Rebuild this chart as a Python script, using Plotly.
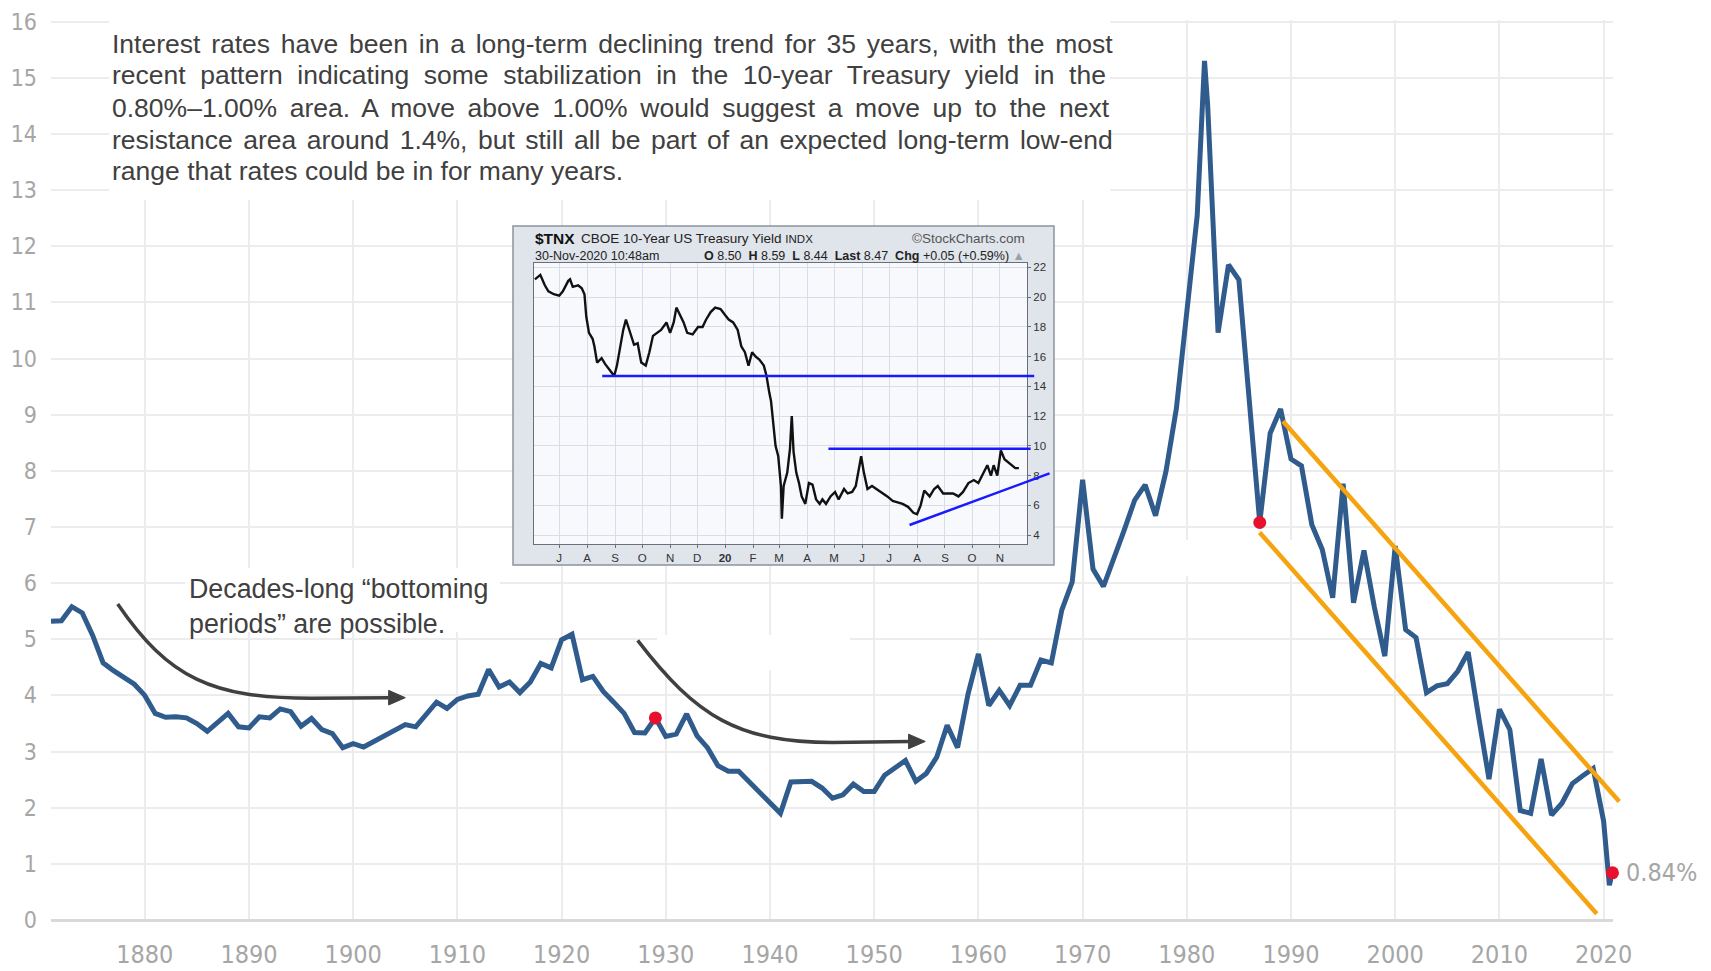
import plotly.graph_objects as go

# ---------------- main series (long-term US interest rate, %) ----------------
years = [1871, 1872, 1873, 1874, 1875, 1876, 1877, 1878, 1879, 1880,
         1881, 1882, 1883, 1884, 1885, 1886, 1887, 1888, 1889, 1890,
         1891, 1892, 1893, 1894, 1895, 1896, 1897, 1898, 1899, 1900,
         1901, 1902, 1903, 1904, 1905, 1906, 1907, 1908, 1909, 1910,
         1911, 1912, 1913, 1914, 1915, 1916, 1917, 1918, 1919, 1920,
         1921, 1922, 1923, 1924, 1925, 1926, 1927, 1928, 1929, 1930,
         1931, 1932, 1933, 1934, 1935, 1936, 1937, 1938, 1939, 1940,
         1941, 1942, 1943, 1944, 1945, 1946, 1947, 1948, 1949, 1950,
         1951, 1952, 1953, 1954, 1955, 1956, 1957, 1958, 1959, 1960,
         1961, 1962, 1963, 1964, 1965, 1966, 1967, 1968, 1969, 1970,
         1971, 1972, 1973, 1974, 1975, 1976, 1977, 1978, 1979, 1980,
         1981, 1981.7, 1982, 1983, 1984, 1985, 1986, 1987, 1988, 1989, 1990,
         1991, 1992, 1993, 1994, 1995, 1996, 1997, 1998, 1999, 2000,
         2001, 2002, 2003, 2004, 2005, 2006, 2007, 2008, 2009, 2010,
         2011, 2012, 2013, 2014, 2015, 2016, 2017, 2018, 2019, 2020,
         2020.55, 2020.85]
rates = [5.32, 5.33, 5.58, 5.47, 5.07, 4.58, 4.44, 4.32, 4.20, 4.00,
         3.68, 3.61, 3.62, 3.60, 3.50, 3.36, 3.52, 3.68, 3.44, 3.42,
         3.62, 3.60, 3.76, 3.71, 3.45, 3.59, 3.39, 3.32, 3.07, 3.14,
         3.08, 3.18, 3.29, 3.39, 3.48, 3.44, 3.65, 3.88, 3.77, 3.93,
         3.99, 4.02, 4.46, 4.15, 4.24, 4.05, 4.24, 4.57, 4.49, 4.99,
         5.09, 4.28, 4.34, 4.07, 3.88, 3.68, 3.34, 3.33, 3.60, 3.27,
         3.31, 3.67, 3.28, 3.07, 2.75, 2.65, 2.65, 2.47, 2.27, 2.10,
         1.90, 2.46, 2.47, 2.47, 2.35, 2.17, 2.23, 2.42, 2.29, 2.29,
         2.58, 2.70, 2.84, 2.47, 2.61, 2.90, 3.47, 3.07, 4.02, 4.74,
         3.82, 4.09, 3.82, 4.18, 4.18, 4.63, 4.58, 5.52, 6.02, 7.84,
         6.25, 5.94, 6.42, 6.95, 7.48, 7.75, 7.20, 7.99, 9.11, 10.82,
         12.55, 15.30, 14.52, 10.46, 11.67, 11.40, 9.19, 7.08, 8.67, 9.10, 8.21,
         8.09, 7.04, 6.60, 5.74, 7.77, 5.65, 6.58, 5.57, 4.70, 6.66,
         5.17, 5.03, 4.05, 4.17, 4.21, 4.43, 4.77, 3.62, 2.51, 3.75,
         3.39, 1.95, 1.90, 2.87, 1.87, 2.08, 2.43, 2.57, 2.70, 1.76,
         0.62, 0.84]

highlight_years = [1929, 1987, 2020.85]
highlight_rates = [3.60, 7.08, 0.84]
last_label = "0.84%"

x_ticks = list(range(1880, 2021, 10))
y_ticks = list(range(0, 17))

# trend channel (orange)
channel_upper = [(1989.1, 8.91), (2021.5, 2.11)]
channel_lower = [(1986.86, 6.93), (2019.34, 0.11)]

# ---------------- inset: $TNX values (yield x10) ----------------
tnx_dates = ["2019-06-04", "2019-06-10", "2019-06-15", "2019-06-19", "2019-06-25", "2019-07-01",
             "2019-07-05", "2019-07-11", "2019-07-13", "2019-07-16", "2019-07-22", "2019-07-26",
             "2019-07-29", "2019-07-31", "2019-08-03", "2019-08-07", "2019-08-09", "2019-08-12",
             "2019-08-17", "2019-08-21", "2019-08-26", "2019-08-31", "2019-09-03", "2019-09-07",
             "2019-09-10", "2019-09-13", "2019-09-18", "2019-09-22", "2019-09-26", "2019-09-30",
             "2019-10-05", "2019-10-09", "2019-10-13", "2019-10-17", "2019-10-22", "2019-10-28",
             "2019-11-01", "2019-11-05", "2019-11-08", "2019-11-12", "2019-11-16", "2019-11-20",
             "2019-11-26", "2019-12-02", "2019-12-07", "2019-12-11", "2019-12-16", "2019-12-21",
             "2019-12-27", "2020-01-01", "2020-01-05", "2020-01-10", "2020-01-15", "2020-01-19",
             "2020-01-23", "2020-01-27", "2020-01-31", "2020-02-04", "2020-02-08", "2020-02-13",
             "2020-02-16", "2020-02-19", "2020-02-21", "2020-02-23", "2020-02-26", "2020-02-29",
             "2020-03-03", "2020-03-04", "2020-03-06", "2020-03-10", "2020-03-13", "2020-03-15",
             "2020-03-17", "2020-03-20", "2020-03-23", "2020-03-26", "2020-03-30", "2020-04-03",
             "2020-04-07", "2020-04-11", "2020-04-15", "2020-04-18", "2020-04-22", "2020-04-27",
             "2020-05-02", "2020-05-06", "2020-05-12", "2020-05-16", "2020-05-21", "2020-05-25",
             "2020-05-28", "2020-05-31", "2020-06-03", "2020-06-07", "2020-06-12", "2020-06-17",
             "2020-06-23", "2020-06-29", "2020-07-05", "2020-07-11", "2020-07-16", "2020-07-22",
             "2020-07-28", "2020-08-01", "2020-08-05", "2020-08-09", "2020-08-15", "2020-08-20",
             "2020-08-24", "2020-08-30", "2020-09-04", "2020-09-10", "2020-09-16", "2020-09-21",
             "2020-09-27", "2020-10-03", "2020-10-08", "2020-10-14", "2020-10-18", "2020-10-22",
             "2020-10-25", "2020-10-29", "2020-11-02", "2020-11-06", "2020-11-10", "2020-11-14",
             "2020-11-18", "2020-11-22"]
tnx_vals = [21.2, 21.5, 20.8, 20.4, 20.2, 20.1,
            20.4, 21.1, 21.2, 20.7, 20.8, 20.6,
            20.2, 18.7, 17.6, 17.2, 16.7, 15.6,
            15.9, 15.5, 15.1, 14.7, 15.4, 16.7,
            17.8, 18.5, 17.6, 16.8, 16.9, 15.6,
            15.4, 16.3, 17.4, 17.6, 17.8, 18.3,
            17.6, 18.3, 19.3, 18.8, 18.3, 17.6,
            17.5, 18.0, 18.0, 18.5, 19.0, 19.3,
            19.2, 18.8, 18.5, 18.3, 17.8, 16.7,
            16.3, 15.4, 16.3, 16.0, 15.8, 15.4,
            14.7, 13.6, 13.0, 11.8, 10.0, 9.3,
            7.3, 5.1, 7.3, 8.2, 9.8, 12.0,
            9.6, 8.2, 7.5, 6.6, 6.1, 7.5,
            7.4, 6.4, 6.1, 6.4, 6.1, 6.6,
            6.9, 6.4, 7.1, 6.8, 6.9, 7.3,
            8.2, 9.3, 8.2, 7.1, 7.3, 7.1,
            6.9, 6.6, 6.3, 6.2, 6.1, 5.9,
            5.5, 5.4, 6.0, 7.0, 6.6, 7.1,
            7.3, 6.8, 6.8, 6.8, 6.6, 6.9,
            7.5, 7.7, 7.5, 8.2, 8.7, 8.0,
            8.7, 8.0, 9.7, 9.1, 8.9, 8.7,
            8.5, 8.5]

tnx_month_ticks = ["2019-07-01", "2019-08-01", "2019-09-01", "2019-10-01", "2019-11-01", "2019-12-01",
                   "2020-01-01", "2020-02-01", "2020-03-01", "2020-04-01", "2020-05-01", "2020-06-01",
                   "2020-07-01", "2020-08-01", "2020-09-01", "2020-10-01", "2020-11-01"]
tnx_month_labels = ["J", "A", "S", "O", "N", "D", "<b>20</b>", "F", "M", "A", "M", "J",
                    "J", "A", "S", "O", "N"]
tnx_y_ticks = [4, 6, 8, 10, 12, 14, 16, 18, 20, 22]
tnx_support = [("2019-08-16", 14.7), ("2020-12-09", 14.7)]
tnx_resist = [("2020-04-23", 9.8), ("2020-12-05", 9.8)]
tnx_trend = [("2020-07-22", 4.64), ("2020-12-26", 8.15)]

para_lines = [
    "Interest rates have been in a long-term declining trend for 35 years, with the most",
    "recent pattern indicating some stabilization in the 10-year Treasury yield in the",
    "0.80%\u20131.00% area. A move above 1.00% would suggest a move up to the next",
    "resistance area around 1.4%, but still all be part of an expected long-term low-end",
    "range that rates could be in for many years.",
]
para_wordspacing = [3.4, 7.2, 5.3, 3.1, 0]
note_text = "Decades-long \u201cbottoming<br>periods\u201d are possible."

# ---------------- geometry helpers (screen pixels; page body has an 8px margin) ----------------
SCREEN_W, SCREEN_H, OFF = 1711, 971, 8
W, H = SCREEN_W - OFF, SCREEN_H - OFF
SL, SR, ST, SB = 51, 1613, 20, 920          # plot area in screen pixels
X0, X1 = 1871, 2020.9
Y0, Y1 = 0, 16.03


def px_x(px):
    return (px - SL) / (SR - SL)


def px_y(py):
    return (SB - py) / (SB - ST)


def dx(px):
    return X0 + (px - SL) / (SR - SL) * (X1 - X0)


def dy(py):
    return Y0 + (SB - py) / (SB - ST) * (Y1 - Y0)


TICK_FAMILY = "DejaVu Sans Condensed, Liberation Sans Narrow, Liberation Sans, sans-serif"
XTICK_FONT = dict(family=TICK_FAMILY, size=25, color="#a6a6a6")
YTICK_FONT = dict(family=TICK_FAMILY, size=23, color="#a6a6a6")
TEXT_FONT = "Liberation Sans, Arial, sans-serif"
LINE_BLUE = "#2f5b8d"
ORANGE = "#f5a30f"
RED = "#e8112d"
ARROW = "#404040"

fig = go.Figure()

fig.add_trace(go.Scatter(x=years, y=rates, mode="lines",
                         line=dict(color=LINE_BLUE, width=5), hoverinfo="skip"))
fig.add_trace(go.Scatter(x=highlight_years, y=highlight_rates, mode="markers", cliponaxis=False,
                         marker=dict(color=RED, size=13), hoverinfo="skip"))

# inset trace
fig.add_trace(go.Scatter(x=tnx_dates, y=tnx_vals, mode="lines", xaxis="x2", yaxis="y2",
                         line=dict(color="#111111", width=2.4), hoverinfo="skip"))

shapes = []
# white patches covering gridlines
for (a, b, c, d) in [(109, 1110, -5, 200), (185, 500, 568, 632), (657, 850, 635, 670), (1120, 1340, 540, 576)]:
    shapes.append(dict(type="rect", xref="x", yref="y", layer="between",
                       x0=dx(a), x1=dx(b), y0=dy(d), y1=dy(c),
                       fillcolor="white", line=dict(width=0)))
# inset frame
shapes.append(dict(type="rect", xref="x", yref="y", layer="between",
                   x0=dx(513), x1=dx(1054), y0=dy(565), y1=dy(226),
                   fillcolor="#e0e4eb", line=dict(color="#8c939e", width=1.5)))
# inset plot background
shapes.append(dict(type="rect", xref="x2", yref="y2", layer="below",
                   x0="2019-06-03", x1="2020-12-01", y0=3.4, y1=22.3,
                   fillcolor="#f8f9fc", line=dict(width=0)))

# curved arrows
arrow_paths = [
    dict(p0=(1877.4, 5.63), c1=(1882.3, 4.30), c2=(1886.5, 3.95), p3=(1896.0, 3.95), end=(1903.4, 3.96), tip=(1905.0, 3.96)),
    dict(p0=(1927.3, 4.98), c1=(1933.0, 3.60), c2=(1937.0, 3.17), p3=(1946.0, 3.16), end=(1953.4, 3.18), tip=(1954.9, 3.18)),
]
for a in arrow_paths:
    path = (f"M {a['p0'][0]},{a['p0'][1]} C {a['c1'][0]},{a['c1'][1]} {a['c2'][0]},{a['c2'][1]} "
            f"{a['p3'][0]},{a['p3'][1]} L {a['end'][0]},{a['end'][1]}")
    shapes.append(dict(type="path", xref="x", yref="y", layer="above", path=path,
                       line=dict(color=ARROW, width=3.5)))
    tx, ty = a["tip"]
    tri = f"M {tx},{ty} L {tx-1.6},{ty+0.13} L {tx-1.6},{ty-0.13} Z"
    shapes.append(dict(type="path", xref="x", yref="y", layer="above", path=tri,
                       fillcolor=ARROW, line=dict(color=ARROW, width=1)))

annotations = []
# orange channel lines
for seg in (channel_upper, channel_lower):
    (xa, ya), (xb, yb) = seg
    annotations.append(dict(x=xb, y=yb, ax=xa, ay=ya, xref="x", yref="y", axref="x", ayref="y",
                            text="", showarrow=True, arrowhead=0, arrowwidth=4.5,
                            arrowcolor=ORANGE, standoff=0, startstandoff=0))
# inset blue lines
for seg in (tnx_support, tnx_resist, tnx_trend):
    (xa, ya), (xb, yb) = seg
    annotations.append(dict(x=xb, y=yb, ax=xa, ay=ya, xref="x2", yref="y2", axref="x2", ayref="y2",
                            text="", showarrow=True, arrowhead=0, arrowwidth=2.5,
                            arrowcolor="#1a1aff", standoff=0, startstandoff=0))

# paragraph
para_y = [43.6, 75.3, 108.0, 139.7, 171.3]
for line, ws, py in zip(para_lines, para_wordspacing, para_y):
    annotations.append(dict(xref="paper", yref="paper", x=px_x(110), y=px_y(py),
                            xanchor="left", yanchor="middle", showarrow=False,
                            text=f"<span style='word-spacing:{ws}px'>{line}</span>",
                            font=dict(family=TEXT_FONT, size=26.5, color="#404040")))
# note
annotations.append(dict(xref="paper", yref="paper", x=px_x(187), y=px_y(606),
                        xanchor="left", yanchor="middle", showarrow=False, align="left",
                        text=note_text, font=dict(family=TEXT_FONT, size=26.8, color="#404040")))
# last value label
annotations.append(dict(xref="x", yref="y", x=highlight_years[-1], y=highlight_rates[-1],
                        xanchor="left", yanchor="middle", xshift=12, showarrow=False,
                        text=last_label, font=XTICK_FONT))

# inset header
annotations += [
    dict(xref="paper", yref="paper", x=px_x(533), y=px_y(239), xanchor="left", yanchor="middle",
         showarrow=False, text="<b>$TNX</b>", font=dict(family=TEXT_FONT, size=15.5, color="#111")),
    dict(xref="paper", yref="paper", x=px_x(579), y=px_y(239), xanchor="left", yanchor="middle",
         showarrow=False, text="CBOE 10-Year US Treasury Yield <span style='font-size:11.5px'>INDX</span>",
         font=dict(family=TEXT_FONT, size=13.5, color="#222")),
    dict(xref="paper", yref="paper", x=px_x(1027), y=px_y(239), xanchor="right", yanchor="middle",
         showarrow=False, text="\u00a9StockCharts.com", font=dict(family=TEXT_FONT, size=13.5, color="#555")),
    dict(xref="paper", yref="paper", x=px_x(533), y=px_y(256), xanchor="left", yanchor="middle",
         showarrow=False, text="30-Nov-2020 10:48am", font=dict(family=TEXT_FONT, size=12.5, color="#222")),
    dict(xref="paper", yref="paper", x=px_x(1027), y=px_y(256), xanchor="right", yanchor="middle",
         showarrow=False,
         text="<b>O</b> 8.50\u00a0\u00a0<b>H</b> 8.59\u00a0\u00a0<b>L</b> 8.44\u00a0\u00a0<b>Last</b> 8.47"
              "\u00a0\u00a0<b>Chg</b> +0.05 (+0.59%) <span style='color:#9aa0a8'>\u25b2</span>",
         font=dict(family=TEXT_FONT, size=12.5, color="#222")),
]

fig.update_layout(
    width=W, height=H, autosize=False,
    margin=dict(l=SL - OFF, r=W - (SR - OFF), t=ST - OFF, b=H - (SB - OFF), pad=0, autoexpand=False),
    paper_bgcolor="white", plot_bgcolor="white",
    showlegend=False,
    shapes=shapes, annotations=annotations,
    xaxis=dict(range=[X0, X1], tickvals=x_ticks, ticktext=[str(v) for v in x_ticks],
               showgrid=True, gridcolor="#ececec", gridwidth=2, zeroline=False, showline=False,
               ticks="", tickfont=XTICK_FONT, ticklabelstandoff=17, fixedrange=True, automargin=False,
               ticklabeloverflow="allow"),
    yaxis=dict(range=[Y0, Y1], tickvals=y_ticks, showgrid=True, gridcolor="#ececec", gridwidth=2,
               zeroline=True, zerolinecolor="#d9d9d9", zerolinewidth=2.5, showline=False,
               ticks="", tickfont=YTICK_FONT, ticklabelstandoff=13, fixedrange=True, automargin=False,
               ticklabeloverflow="allow"),
    xaxis2=dict(type="date", domain=[px_x(534), px_x(1027)], anchor="y2", automargin=False,
                range=["2019-06-03", "2020-12-01"], tickvals=tnx_month_ticks, ticktext=tnx_month_labels,
                showgrid=True, gridcolor="#d9dde5", gridwidth=1, showline=True, mirror=True,
                linecolor="#6a707a", linewidth=1, ticks="outside", ticklen=3, tickcolor="#6a707a",
                tickfont=dict(family=TEXT_FONT, size=11.5, color="#333"), zeroline=False),
    yaxis2=dict(domain=[px_y(544), px_y(263)], anchor="x2", side="right", automargin=False,
                range=[3.4, 22.3], tickvals=tnx_y_ticks,
                showgrid=True, gridcolor="#d9dde5", gridwidth=1, showline=True, mirror=True,
                linecolor="#6a707a", linewidth=1, ticks="outside", ticklen=3, tickcolor="#6a707a",
                tickfont=dict(family=TEXT_FONT, size=11.5, color="#333"), zeroline=False),
)

fig.write_html("out.html")
